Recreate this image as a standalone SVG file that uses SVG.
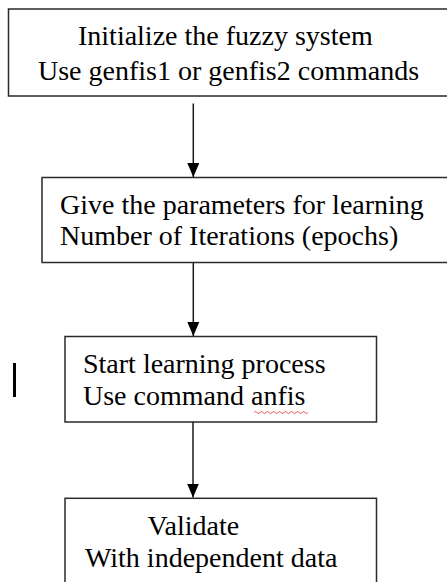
<svg xmlns="http://www.w3.org/2000/svg" width="447" height="582" viewBox="0 0 447 582">
<style>
  .box { fill: #fff; stroke: #2a2a2a; stroke-width: 1.5; }
  .lbl { font-family: 'Liberation Serif', 'Times New Roman', 'DejaVu Serif', serif; font-size: 28px; fill: #000; }
  .conn { stroke: #1a1a1a; stroke-width: 1.5; fill: none; }
</style>
<defs>
  <marker id="arrow" markerWidth="14" markerHeight="12" refX="14" refY="6" orient="auto" markerUnits="userSpaceOnUse" viewBox="0 0 14 12">
    <path d="M0,0 L14,6 L0,12 Z" fill="#000"/>
  </marker>
</defs>
<rect width="447" height="582" fill="#fff"/>
<g id="node-init">
  <rect class="box" x="8.5" y="9" width="444" height="87"/>
  <text class="lbl" font-family="Liberation Serif, serif" font-size="28" x="78" y="45">Initialize the fuzzy system</text>
  <text class="lbl" font-family="Liberation Serif, serif" font-size="28" x="38" y="79.5">Use genfis1 or genfis2 commands</text>
</g>
<g id="node-params">
  <rect class="box" x="42" y="177.5" width="410" height="85"/>
  <text class="lbl" font-family="Liberation Serif, serif" font-size="28" x="60" y="214">Give the parameters for learning</text>
  <text class="lbl" font-family="Liberation Serif, serif" font-size="28" x="60" y="245">Number of Iterations (epochs)</text>
</g>
<g id="node-learn">
  <rect class="box" x="65" y="336.5" width="311.5" height="85.5"/>
  <text class="lbl" font-family="Liberation Serif, serif" font-size="28" x="83" y="372.5">Start learning process</text>
  <text class="lbl" font-family="Liberation Serif, serif" font-size="28" x="83" y="405">Use command anfis</text>
  <path d="M254,412.5 q1.5,-2 3,0 t3,0 t3,0 t3,0 t3,0 t3,0 t3,0 t3,0 t3,0 t3,0 t3,0 t3,0 t3,0 t3,0 t3,0 t3,0 t3,0 t3,0" fill="none" stroke="#e03030" stroke-width="0.8"/>
</g>
<g id="node-validate">
  <rect class="box" x="65" y="498.3" width="311.5" height="100"/>
  <text class="lbl" font-family="Liberation Serif, serif" font-size="28" x="147.5" y="535">Validate</text>
  <text class="lbl" font-family="Liberation Serif, serif" font-size="28" x="85" y="567.3">With independent data</text>
</g>
<g id="mark">
  <rect x="13" y="363" width="3" height="34" fill="#000"/>
</g>
<g id="connectors">
  <line class="conn" x1="193.3" y1="103.5" x2="193.3" y2="177" marker-end="url(#arrow)"/>
  <line class="conn" x1="193.3" y1="263" x2="193.3" y2="336" marker-end="url(#arrow)"/>
  <line class="conn" x1="193" y1="422" x2="193" y2="497.5" marker-end="url(#arrow)"/>
</g>
</svg>
